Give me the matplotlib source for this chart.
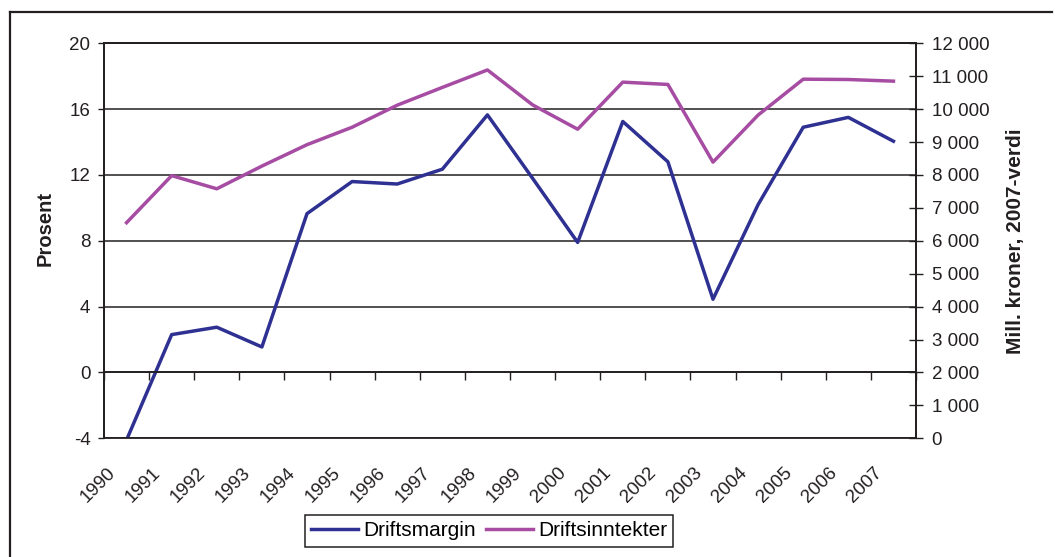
import matplotlib
matplotlib.use("Agg")
import matplotlib.pyplot as plt
from matplotlib.lines import Line2D
from matplotlib.ticker import FuncFormatter
from matplotlib.transforms import ScaledTranslation

plt.rcParams['font.family'] = ['Liberation Sans', 'DejaVu Sans']
plt.rcParams['axes.unicode_minus'] = False

# Data
years = [str(y) for y in range(1990, 2008)]
driftsmargin = [-4.1, 2.3, 2.75, 1.55, 9.65, 11.6, 11.45, 12.35, 15.65, 11.8,
                7.9, 15.25, 12.8, 4.45, 10.2, 14.9, 15.5, 14.05]
driftsinntekter = [6550, 7980, 7580, 8270, 8920, 9450, 10120, 10660, 11190, 10130,
                   9390, 10820, 10750, 8390, 9820, 10910, 10900, 10850]

blue = '#2e3192'
magenta = '#a64ca3'
ink = '#231f20'

W, H = 1055, 557
fig = plt.figure(figsize=(W / 100, H / 100), dpi=100)
ax = fig.add_axes([104 / W, 1 - 438.3 / H, (916 - 104) / W, (438.3 - 43.3) / H])
ax2 = ax.twinx()

x = range(len(years))
ax.plot(x, driftsmargin, color=blue, lw=2.5, solid_joinstyle='round', label='Driftsmargin')
ax2.plot(x, driftsinntekter, color=magenta, lw=2.5, solid_joinstyle='round', label='Driftsinntekter')

ax.set_xlim(-0.5, len(years) - 0.5)
ax.set_ylim(-4, 20)
ax2.set_ylim(0, 12000)

# left axis
ax.set_yticks(range(-4, 21, 4))
ax.yaxis.grid(True, color=ink, lw=1.1)
ax.set_axisbelow(True)
ax.tick_params(axis='y', direction='out', length=4.3, width=1, pad=5.5,
               labelsize=13.5, colors=ink)

# category axis crossing at 0, labels below the plot area
ax.spines['bottom'].set_position(('data', 0))
ax.set_xticks([i - 0.5 for i in range(len(years) + 1)])
ax.set_xticklabels([])
ax.set_xticks(list(x), minor=True)
ax.set_xticklabels(years, minor=True, rotation=45, ha='right', va='top')
ax.tick_params(axis='x', which='major', direction='out', length=5.5, width=1, colors=ink)
ax.tick_params(axis='x', which='minor', length=0, pad=66, labelsize=13.5, colors=ink)
shift = ScaledTranslation(-8 / 100, 0, fig.dpi_scale_trans)
for lab in ax.get_xticklabels(minor=True):
    lab.set_transform(lab.get_transform() + shift)

# right axis
ax2.set_yticks(range(0, 12001, 1000))
ax2.yaxis.set_major_formatter(FuncFormatter(lambda v, p: f"{int(v):,}".replace(',', ' ')))
ax2.tick_params(axis='y', direction='inout', length=9.5, width=1, pad=6.5,
                labelsize=13.5, colors=ink)

for a in (ax, ax2):
    for s in a.spines.values():
        s.set_color(ink)
        s.set_linewidth(1.3)

fig.text(45 / W, 1 - 228 / H, 'Prosent', rotation=90, ha='center', va='center',
         fontsize=14.5, fontweight='bold', color=ink)
fig.text(1015 / W, 1 - 241 / H, 'Mill. kroner, 2007-verdi', rotation=90, ha='center',
         va='center', fontsize=15, fontweight='bold', color=ink)

# outer frame (left and top edges visible)
fig.add_artist(Line2D([10 / W, 10 / W], [0, 1 - 11.7 / H], transform=fig.transFigure,
                      color=ink, lw=1.6))
fig.add_artist(Line2D([10 / W, 1052 / W], [1 - 11.7 / H, 1 - 11.7 / H],
                      transform=fig.transFigure, color=ink, lw=1.6))

h1, l1 = ax.get_legend_handles_labels()
h2, l2 = ax2.get_legend_handles_labels()
leg = fig.legend(h1 + h2, l1 + l2, loc='center', bbox_to_anchor=(489 / W, 1 - 531 / H),
                 ncol=2, fontsize=15, frameon=True, fancybox=False, framealpha=1,
                 edgecolor=ink, handlelength=2.25, handletextpad=0.25,
                 columnspacing=0.5, borderpad=0.3)
leg.get_frame().set_linewidth(1.1)

fig.savefig('out.png', dpi=100)
